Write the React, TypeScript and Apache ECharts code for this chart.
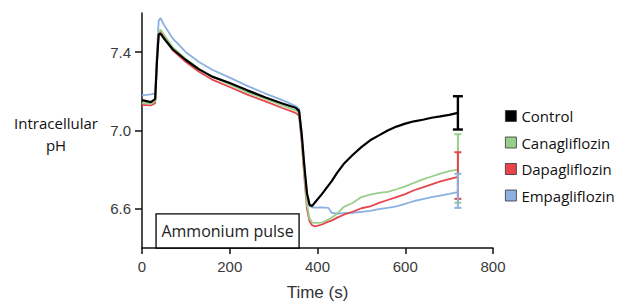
import React, { useEffect, useRef } from "react";
import * as echarts from "echarts";

const times = [0, 10, 20, 30, 34, 38, 42, 50, 70, 100, 130, 160, 200, 240, 280, 320, 350, 358, 364, 370, 376, 382, 388, 395, 410, 425, 432, 445, 460, 480, 500, 520, 540, 560, 580, 600, 620, 640, 660, 680, 700, 720];

const control = [7.155, 7.15, 7.145, 7.16, 7.35, 7.49, 7.495, 7.47, 7.415, 7.36, 7.312, 7.275, 7.243, 7.205, 7.17, 7.138, 7.116, 7.1, 6.98, 6.82, 6.68, 6.62, 6.615, 6.635, 6.675, 6.72, 6.74, 6.785, 6.83, 6.875, 6.915, 6.95, 6.975, 7.0, 7.02, 7.035, 7.047, 7.055, 7.065, 7.072, 7.08, 7.09];
const canagliflozin = [7.14, 7.14, 7.135, 7.15, 7.36, 7.5, 7.515, 7.49, 7.425, 7.365, 7.315, 7.275, 7.235, 7.195, 7.162, 7.128, 7.103, 7.09, 6.96, 6.78, 6.62, 6.55, 6.53, 6.528, 6.53, 6.545, 6.555, 6.575, 6.61, 6.63, 6.66, 6.672, 6.682, 6.687, 6.7, 6.715, 6.733, 6.75, 6.765, 6.78, 6.792, 6.8];
const dapagliflozin = [7.13, 7.13, 7.128, 7.14, 7.34, 7.49, 7.51, 7.48, 7.41, 7.35, 7.3, 7.26, 7.222, 7.183, 7.15, 7.115, 7.09, 7.075, 6.94, 6.76, 6.6, 6.535, 6.515, 6.511, 6.52, 6.535, 6.54, 6.555, 6.57, 6.585, 6.603, 6.612, 6.63, 6.645, 6.66, 6.675, 6.695, 6.71, 6.725, 6.74, 6.752, 6.763];
const empagliflozin = [7.18, 7.182, 7.185, 7.19, 7.4, 7.56, 7.575, 7.54, 7.47, 7.4, 7.35, 7.31, 7.27, 7.228, 7.19, 7.155, 7.125, 7.11, 6.99, 6.82, 6.67, 6.615, 6.608, 6.606, 6.607, 6.605, 6.58, 6.575, 6.578, 6.58, 6.585, 6.59, 6.598, 6.605, 6.612, 6.625, 6.64, 6.65, 6.66, 6.668, 6.676, 6.685];

const seriesNames = ["Control", "Canagliflozin", "Dapagliflozin", "Empagliflozin"];
const seriesColors = ["#000000", "#97cf8b", "#e5454b", "#8cb1e1"];
const errorTime = 720;
const errorMeans = [7.09, 6.806, 6.77, 6.692];
const errorHalf = [0.085, 0.175, 0.119, 0.087];

const xTicks = [0, 200, 400, 600, 800];
const yTicks = [6.6, 7.0, 7.4];
const pulseStart = 32;
const pulseEnd = 358;
const pulseTop = 6.574;
const yTitle = "Intracellular\npH";

export default function App() {
  const ref = useRef<HTMLDivElement>(null);
  useEffect(() => {
    if (!ref.current) return;
    const chart = echarts.init(ref.current, null, { renderer: "svg" });
    const values = [control, canagliflozin, dapagliflozin, empagliflozin];
    const lineSeries: any[] = values.map((vals, i) => ({
      name: seriesNames[i],
      type: "line",
      data: times.map((t, j) => [t, vals[j]]),
      showSymbol: false,
      symbol: "none",
      color: seriesColors[i],
      lineStyle: { color: seriesColors[i], width: i === 0 ? 2.2 : 1.8 },
      z: i === 0 ? 5 : 4 - i * 0.1,
      ...(i === 0
        ? {
            markArea: {
              silent: true,
              itemStyle: { color: "#ffffff", borderColor: "#000", borderWidth: 1.3 },
              label: {
                show: true,
                position: "inside",
                color: "#222",
                fontSize: 16,
                fontFamily: "Open Sans",
              },
              data: [
                [
                  { name: "Ammonium pulse", xAxis: pulseStart, yAxis: 6.4 },
                  { xAxis: pulseEnd, yAxis: pulseTop },
                ],
              ],
            },
          }
        : {}),
    }));
    const errSeries: any[] = errorMeans.map((m, i) => ({
      name: seriesNames[i] + " SEM",
      type: "custom",
      z: i === 0 ? 6 : 5,
      data: [[errorTime, m, errorHalf[i]]],
      renderItem: (params: any, api: any) => {
        const x = api.value(0);
        const mean = api.value(1);
        const e = api.value(2);
        const top = api.coord([x, mean + e]);
        const bot = api.coord([x, mean - e]);
        const cw = i === 0 ? 5 : 3.5;
        const st = { stroke: seriesColors[i], lineWidth: i === 0 ? 2.4 : 2 };
        return {
          type: "group",
          children: [
            { type: "line", shape: { x1: top[0], y1: top[1], x2: bot[0], y2: bot[1] }, style: st },
            { type: "line", shape: { x1: top[0] - cw, y1: top[1], x2: top[0] + cw, y2: top[1] }, style: st },
            { type: "line", shape: { x1: bot[0] - cw, y1: bot[1], x2: bot[0] + cw, y2: bot[1] }, style: st },
          ],
        };
      },
    }));

    chart.setOption({
      animation: false,
      grid: { left: 142, right: 134, top: 13, bottom: 56, containLabel: false, outerBoundsMode: "none" },
      graphic: [
        {
          type: "text",
          x: 56,
          y: 112,
          style: {
            text: yTitle,
            fontSize: 15,
            fontFamily: "Open Sans",
            fill: "#111",
            align: "center",
            verticalAlign: "top",
            lineHeight: 22,
          },
        },
      ],
      legend: {
        orient: "vertical",
        left: 500,
        top: 103,
        icon: "rect",
        itemWidth: 11,
        itemHeight: 11,
        itemGap: 10.5,
        data: seriesNames,
        itemStyle: { borderColor: "#333", borderWidth: 0.8 },
        textStyle: { fontSize: 15, fontFamily: "Open Sans", color: "#111", lineHeight: 16 },
      },
      xAxis: {
        type: "value",
        min: 0,
        max: 800,
        interval: 200,
        name: "Time (s)",
        nameLocation: "middle",
        nameGap: 36,
        nameTextStyle: { fontSize: 17, fontFamily: "Liberation Sans", color: "#333" },
        splitLine: { show: false },
        axisLine: { lineStyle: { color: "#111", width: 1.5 } },
        axisTick: { length: 6, lineStyle: { color: "#111", width: 1.5 }, customValues: xTicks },
        axisLabel: { fontSize: 15, fontFamily: "Liberation Sans", color: "#3a3a3a", margin: 11, customValues: xTicks },
      },
      yAxis: {
        type: "value",
        min: 6.4,
        max: 7.6,
        splitLine: { show: false },
        axisLine: { show: true, lineStyle: { color: "#111", width: 1.5 } },
        axisTick: { show: true, length: 7, lineStyle: { color: "#111", width: 1.5 }, customValues: yTicks },
        axisLabel: {
          fontSize: 15,
          fontFamily: "Liberation Sans",
          color: "#3a3a3a",
          margin: 11,
          customValues: yTicks,
          formatter: (v: number) => v.toFixed(1),
        },
      },
      series: [...lineSeries, ...errSeries],
    });
    return () => chart.dispose();
  }, []);
  return (
    <div
      ref={ref}
      style={{ position: "fixed", left: 0, top: 0, width: 627, height: 304, background: "#fff" }}
    />
  );
}
